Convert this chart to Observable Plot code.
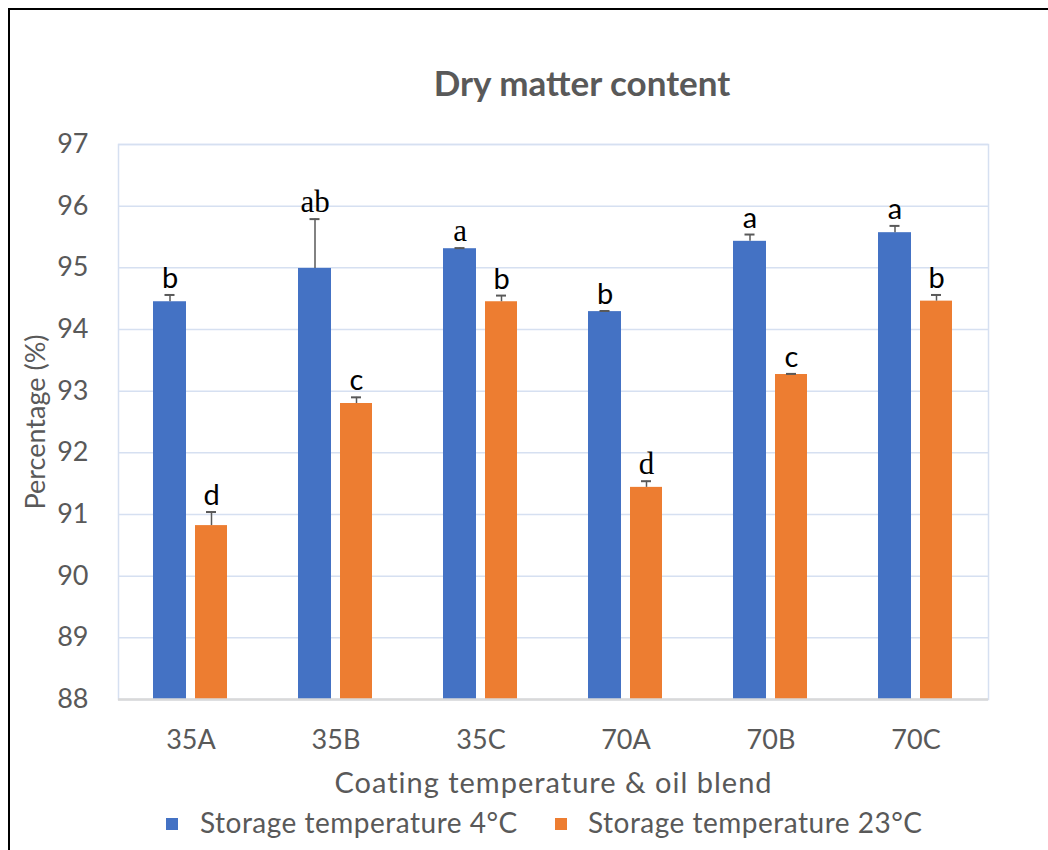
<!DOCTYPE html>
<html><head><meta charset="utf-8">
<script src="https://cdn.jsdelivr.net/npm/d3@7"></script>
<script src="https://cdn.jsdelivr.net/npm/@observablehq/plot@0.6"></script>
<style>
body{margin:0;background:#fff;font-family:Lato,"Open Sans",sans-serif;width:1048px;height:850px;overflow:hidden;position:relative;}
#frame{position:absolute;left:8px;top:8px;width:1100px;height:900px;border-left:2px solid #000;border-top:2px solid #000;}
#title{position:absolute;left:332px;width:500px;top:61px;text-align:center;font-weight:bold;font-size:35px;color:#595959;}
#chart{position:absolute;left:0;top:110px;}
#chart g[aria-label="x-axis label"] text{font-size:29px;letter-spacing:1px;}
.leg{position:absolute;top:805px;font-size:28px;color:#595959;white-space:nowrap;letter-spacing:0.5px;}
.sw{position:absolute;top:818px;width:12px;height:12px;}
</style></head><body>
<div id="frame"></div>
<div id="title">Dry matter content</div>
<div id="chart"></div>
<div id="legend"></div>
<script>
const categories = ["35A","35B","35C","70A","70B","70C"];
const series = ["Storage temperature 4°C","Storage temperature 23°C"];
const values4 = [94.45, 94.99, 95.31, 94.29, 95.43, 95.57];
const values23 = [90.82, 92.80, 94.45, 91.44, 93.27, 94.46];
const err4 = [0.11, 0.80, 0.01, 0.01, 0.11, 0.11];
const err23 = [0.22, 0.10, 0.10, 0.10, 0.01, 0.10];
const letters4 = ["b","ab","a","b","a","a"];
const letters23 = ["d","c","b","d","c","b"];
const yTicks = [88,89,90,91,92,93,94,95,96,97];
const colors = ["#4472C4","#ED7D31"];

const serifLabels = new Set(["35B|0","35C|0","70A|1"]);
const data = categories.flatMap((c,i)=>[
  {cat:c, s:0, series:series[0], value:values4[i], err:err4[i], letter:letters4[i]},
  {cat:c, s:1, series:series[1], value:values23[i], err:err23[i], letter:letters23[i]}
]);
const isSerif = d=>serifLabels.has(d.cat+"|"+d.s);
const blue = data.filter(d=>d.s===0), orange = data.filter(d=>d.s===1);
const errTop = d=>d.value+d.err;
const grid = "#d6e0f1";
const sans = "Lato, 'Open Sans', sans-serif", serif = "'Liberation Serif', 'DejaVu Serif', serif";
const txt = (arr, dx, font, size) => Plot.text(arr, {x:"cat", y:errTop, text:"letter", dx, lineAnchor:"bottom", dy:-7, fontSize:size, fill:"#000", fontFamily:font});
const plot = Plot.plot({
  width:1048, height:690,
  marginLeft:118, marginRight:60, marginTop:34, marginBottom:101,
  style:{fontFamily:sans, fontSize:"27px", color:"#595959", background:"transparent"},
  x:{domain:categories, padding:0, round:false},
  y:{domain:[yTicks[0], yTicks[yTicks.length-1]]},
  color:{domain:series, range:colors},
  marks:[
    Plot.ruleY(yTicks, {stroke:grid, strokeWidth:1.5}),
    Plot.frame({stroke:grid, strokeWidth:1.5}),
    Plot.barY(blue, {x:"cat", y1:yTicks[0], y2:"value", fill:"series", insetLeft:35, insetRight:77}),
    Plot.barY(orange, {x:"cat", y1:yTicks[0], y2:"value", fill:"series", insetLeft:77, insetRight:36}),
    Plot.ruleY([yTicks[0]], {stroke:"#d9d9d9", strokeWidth:2.5}),
    Plot.ruleX(blue, {x:"cat", y1:"value", y2:errTop, dx:-21, stroke:"#595959", strokeWidth:1.5}),
    Plot.ruleX(orange, {x:"cat", y1:"value", y2:errTop, dx:20.5, stroke:"#595959", strokeWidth:1.5}),
    Plot.tickY(blue, {x:"cat", y:errTop, insetLeft:46.5, insetRight:88.5, stroke:"#595959", strokeWidth:2}),
    Plot.tickY(orange, {x:"cat", y:errTop, insetLeft:88, insetRight:47, stroke:"#595959", strokeWidth:2}),
    txt(blue.filter(d=>!isSerif(d)), -21, sans, 29),
    txt(blue.filter(isSerif), -21, serif, 31),
    txt(orange.filter(d=>!isSerif(d)), 20.5, sans, 29),
    txt(orange.filter(isSerif), 20.5, serif, 31),
    Plot.axisY({ticks:yTicks, tickSize:0, tickPadding:30, label:"Percentage (%)", labelAnchor:"center", labelOffset:93, labelArrow:"none"}),
    Plot.axisX({tickSize:0, tickPadding:30, label:"Coating temperature & oil blend", labelAnchor:"center", labelOffset:93})
  ]
});
document.getElementById("chart").appendChild(plot);

const legend = document.getElementById("legend");
const legX = [[166, 200], [555, 588]];
series.forEach((s,i)=>{
  const sw = document.createElement("div"); sw.className="sw"; sw.style.left=legX[i][0]+"px"; sw.style.background=colors[i];
  const t = document.createElement("div"); t.className="leg"; t.style.left=legX[i][1]+"px"; t.textContent=s;
  legend.appendChild(sw); legend.appendChild(t);
});
</script></body></html>
